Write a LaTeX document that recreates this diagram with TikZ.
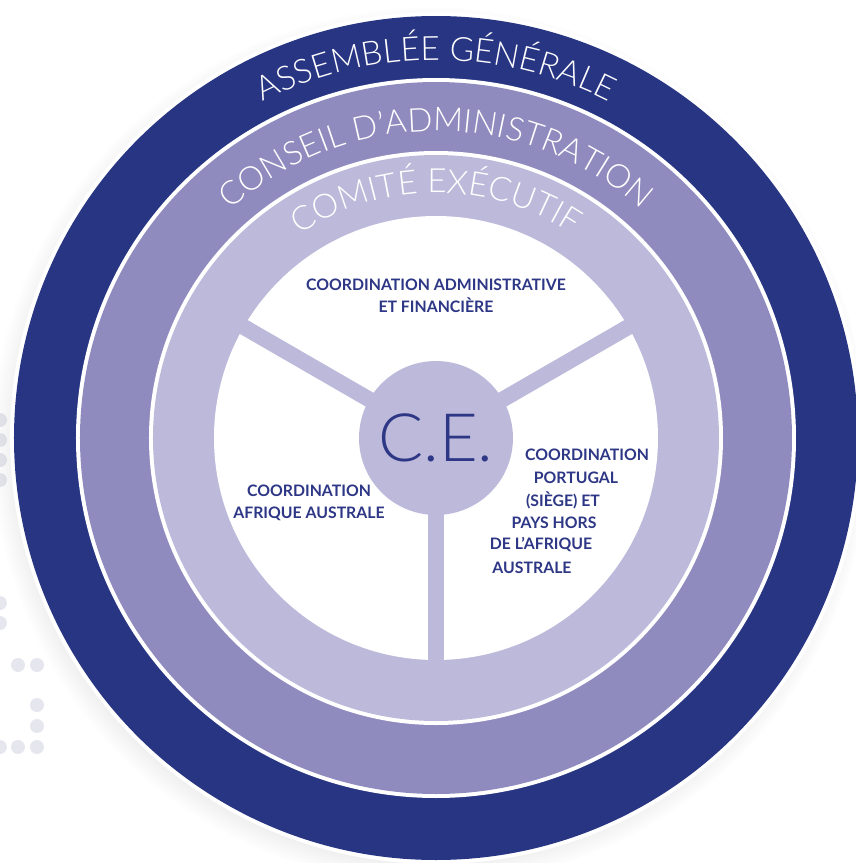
\documentclass[tikz,border=0pt]{standalone}
\usepackage{fontspec}
\usetikzlibrary{decorations.text,shadows}
\setmainfont{Lato}
\IfFontExistsTF{Lato Light}{\newfontfamily\lightfont{Lato Light}}{\newfontfamily\lightfont{Lato}}
\definecolor{navy}{HTML}{283583}
\definecolor{mauve}{HTML}{908BBE}
\definecolor{lilac}{HTML}{BCB9DA}
\definecolor{inknavy}{HTML}{2D3785}
\definecolor{dotgrey}{HTML}{E6E6EF}
\tikzset{
  ringtext/.style={decorate,decoration={text along path,text align=center,text color=white}},
  pole/.style={text=inknavy,font=\bfseries\fontsize{9}{12.5}\selectfont,align=center},
  spoke/.style={draw=lilac,line width=9pt},
  dot/.style={fill=dotgrey},
}
\begin{document}
\begin{tikzpicture}[x=0.02cm,y=0.02cm]
\useasboundingbox (-436,-425) rectangle (420,438);
\foreach \p in {(-436,18),(-436,-2),(-436,-22),(-436,-42),(-436,-165),(-436,-185),
  (-418,-227),(-399,-227),(-399,-267),(-399,-288),(-436,-309),(-418,-309),(-399,-309)}
  \fill[dot] \p circle (7);
\fill[white,circular drop shadow={shadow xshift=-3pt,shadow yshift=-4pt,shadow scale=1.03,opacity=.35}] (0,0) circle (426);
\fill[navy] (0,0) circle (422);
\fill[white] (0,0) circle (360);
\fill[mauve] (0,0) circle (356);
\fill[white] (0,0) circle (287);
\fill[lilac] (0,0) circle (283);
\fill[white] (0,0) circle (222);
\path[ringtext,decoration={text={|\lightfont\fontsize{19}{22}\selectfont|ASSEMBLÉE GÉNÉRALE}}] (180:378) arc (180:0:378);
\path[ringtext,decoration={text={|\lightfont\fontsize{18.7}{22}\selectfont|CONSEIL D’ADMINISTRATION}}] (180:307) arc (180:0:307);
\path[ringtext,decoration={text={|\lightfont\fontsize{19}{22}\selectfont|COMITÉ EXÉCUTIF}}] (180:245) arc (180:0:245);
\node[circle,fill=lilac,minimum size=3.08cm,text=inknavy,font=\lightfont\fontsize{38}{40}\selectfont] (ce) at (0,0) {C.E.};
\coordinate (s1) at (150:235);
\coordinate (s2) at (30:235);
\coordinate (s3) at (270:235);
\draw[spoke,shorten <=-3pt] (ce) -- (s1);
\draw[spoke,shorten <=-3pt] (ce) -- (s2);
\draw[spoke,shorten <=-3pt] (ce) -- (s3);
\node[pole] (adm) at (0,142) {COORDINATION ADMINISTRATIVE\\ET FINANCIÈRE};
\node[pole] (afr) at (-127,-65) {COORDINATION\\AFRIQUE AUSTRALE};
\node[pole] (pt1) at (151,-17) {COORDINATION};
\node[pole] (pt2) at (140,-39.5) {PORTUGAL};
\node[pole] (pt3) at (127,-62) {(SIÈGE) ET};
\node[pole] (pt4) at (118,-84.5) {PAYS HORS};
\node[pole] (pt5) at (105,-107) {DE L’AFRIQUE};
\node[pole] (pt6) at (96,-129.5) {AUSTRALE};
\end{tikzpicture}
\end{document}
